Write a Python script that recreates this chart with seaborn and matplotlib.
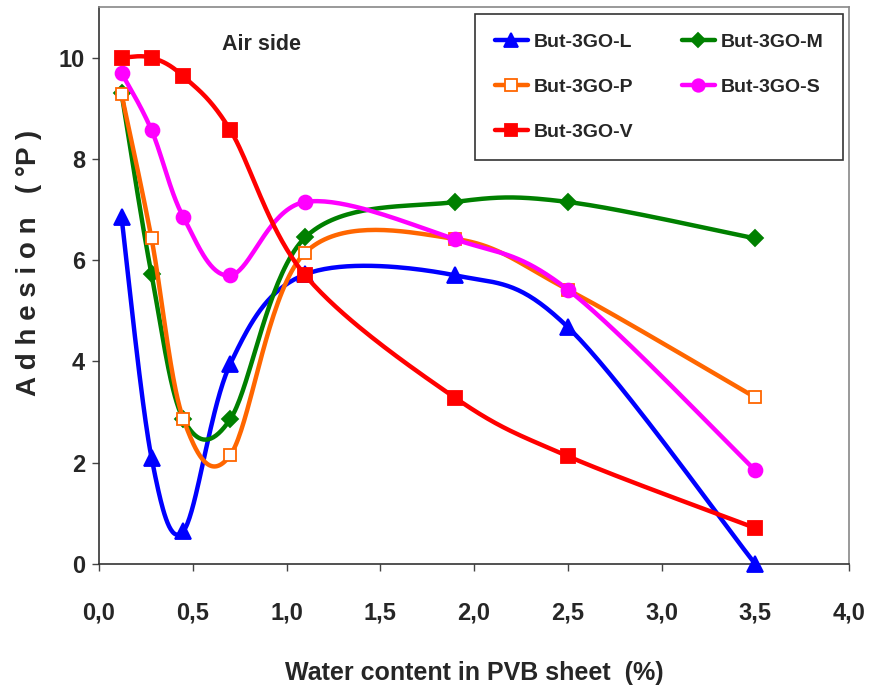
import numpy as np
import pandas as pd
import matplotlib
matplotlib.use("Agg")
import matplotlib.pyplot as plt
import seaborn as sns
from matplotlib.lines import Line2D

# ---- data ----
water = [0.12, 0.28, 0.45, 0.70, 1.10, 1.90, 2.50, 3.50]
but_L = [6.85, 2.10, 0.65, 3.95, 5.72, 5.70, 4.68, 0.00]
but_M = [9.30, 5.72, 2.86, 2.86, 6.45, 7.15, 7.15, 6.43]
but_P = [9.28, 6.43, 2.86, 2.15, 6.15, 6.42, 5.42, 3.29]
but_S = [9.70, 8.57, 6.85, 5.70, 7.15, 6.41, 5.42, 1.85]
but_V = [10.0, 10.0, 9.63, 8.57, 5.70, 3.28, 2.13, 0.71]
series_names = ["But-3GO-L", "But-3GO-M", "But-3GO-P", "But-3GO-S", "But-3GO-V"]
x_ticks = [0.0, 0.5, 1.0, 1.5, 2.0, 2.5, 3.0, 3.5, 4.0]
y_ticks = [0, 2, 4, 6, 8, 10]

series = [but_L, but_M, but_P, but_S, but_V]
colors = ["#0000FF", "#008000", "#FF6600", "#FF00FF", "#FF0000"]
markers = ["^", "D", "s", "o", "s"]
msizes = [11, 8, 9, 10, 10]


def smooth(xs, ys, n=40):
    """Excel-like smoothed line (Catmull-Rom Bezier) through the data points."""
    P = np.column_stack([xs, ys]).astype(float)
    out = []
    m = len(P)
    for i in range(m - 1):
        p0 = P[i - 1] if i > 0 else P[i]
        p1 = P[i]
        p2 = P[i + 1]
        p3 = P[i + 2] if i + 2 < m else P[i + 1]
        c1 = p1 + (p2 - p0) / 6.0
        c2 = p2 - (p3 - p1) / 6.0
        t = np.linspace(0, 1, n)[:, None]
        seg = ((1 - t) ** 3) * p1 + 3 * ((1 - t) ** 2) * t * c1 + 3 * (1 - t) * t ** 2 * c2 + t ** 3 * p2
        if i > 0:
            seg = seg[1:]
        out.append(seg)
    return np.vstack(out)


sns.set_style("ticks")
plt.rcParams["font.family"] = ["Liberation Sans", "DejaVu Sans"]
plt.rcParams["font.weight"] = "bold"

fig = plt.figure(figsize=(8.71, 6.92), dpi=100)
ax = fig.add_axes([99 / 871, 1 - 564 / 692, 750 / 871, 557 / 692])

handles = {}
for k, (name, ys, c, mk, ms) in enumerate(zip(series_names, series, colors, markers, msizes)):
    sm = smooth(water, ys)
    df = pd.DataFrame({"x": sm[:, 0], "y": sm[:, 1]})
    sns.lineplot(data=df, x="x", y="y", ax=ax, color=c, linewidth=3.2, sort=False,
                 estimator=None, zorder=2 + 2 * k)
    fc = "white" if name == "But-3GO-P" else c
    ax.plot(water, ys, linestyle="none", marker=mk, markersize=ms, markerfacecolor=fc,
            markeredgecolor=c, markeredgewidth=1.3, zorder=3 + 2 * k, clip_on=False)
    handles[name] = Line2D([], [], color=c, linewidth=3.2, marker=mk, markersize=ms - 1,
                           markerfacecolor=fc, markeredgecolor=c, markeredgewidth=1.3)

ax.set_xlim(0, 4.0)
ax.set_ylim(0, 11)
ax.set_xticks(x_ticks)
ax.set_xticklabels([f"{v:.1f}".replace(".", ",") for v in x_ticks])
ax.set_yticks(y_ticks)
ax.set_yticklabels([str(v) for v in y_ticks])
ax.tick_params(axis="both", direction="out", length=5, width=1, color="#444444",
               labelsize=17, pad=5)
ax.tick_params(axis="x", pad=22)
for lab in ax.get_xticklabels() + ax.get_yticklabels():
    lab.set_fontweight("bold")

for side in ["left", "bottom"]:
    ax.spines[side].set_color("#333333")
    ax.spines[side].set_linewidth(1.2)
for side in ["top", "right"]:
    ax.spines[side].set_visible(True)
    ax.spines[side].set_color("#888888")
    ax.spines[side].set_linewidth(1.2)

ax.set_xlabel("Water content in PVB sheet  (%)", fontsize=18, fontweight="bold", labelpad=26)
ax.set_ylabel("A d h e s i o n   ( °P )", fontsize=20, fontweight="bold")
ax.yaxis.set_label_coords(-0.076, 0.54)

ax.text((222 - 99) / 750, (564 - 45) / 557, "Air side", transform=ax.transAxes, fontsize=15.5,
        fontweight="bold", ha="left", va="center")

order = ["But-3GO-L", "But-3GO-P", "But-3GO-V", "But-3GO-M", "But-3GO-S"]
leg = ax.legend([handles[n] for n in order], order, ncol=2, loc="upper right",
                bbox_to_anchor=(843 / 871, 1 - 14 / 692), bbox_transform=fig.transFigure,
                frameon=True, fancybox=False, edgecolor="#333333", framealpha=1,
                fontsize=14, handlelength=1.7, handletextpad=0.3, columnspacing=2.5,
                labelspacing=1.4, borderpad=1.0, borderaxespad=0)
leg.get_frame().set_linewidth(1.2)
for t in leg.get_texts():
    t.set_fontweight("bold")

fig.savefig("out.png", dpi=100)
